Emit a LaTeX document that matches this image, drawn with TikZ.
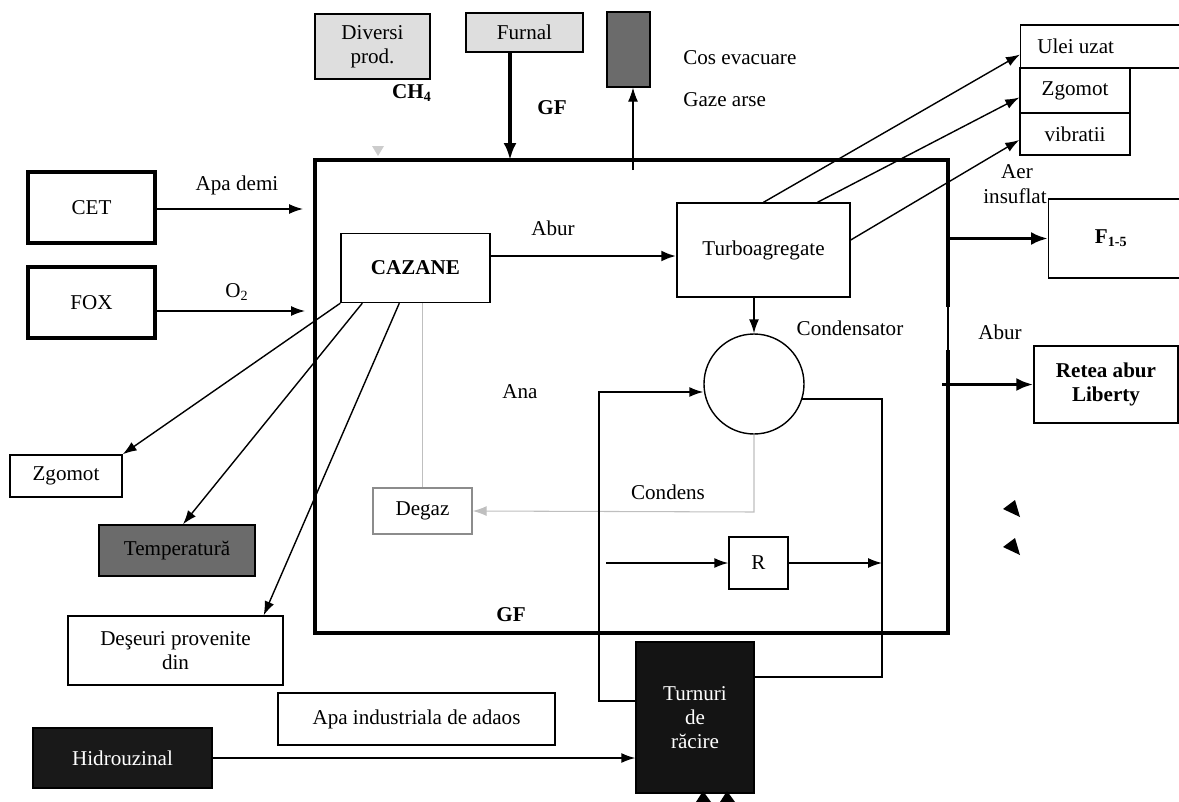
\documentclass[tikz,border=0pt]{standalone}
\usepackage{fontspec}
\setmainfont{Liberation Serif}
\usetikzlibrary{arrows.meta}

\begin{document}
\begin{tikzpicture}[x=0.2mm,y=-0.2mm,
  font=\fontsize{12}{13.5}\selectfont,
  >={Latex[length=2.8mm,width=2mm]},
  blok/.style={draw,line width=0.8pt,inner sep=1pt,align=center},
  grosbox/.style={draw,line width=2.3pt,inner sep=1pt,align=center},
  fin/.style={line width=0.8pt,->},
  gros/.style={line width=2pt,-{Latex[length=3.4mm,width=2.6mm]}},
  gri/.style={draw=black!25,line width=0.6pt},
  lbl/.style={inner sep=0pt}]

\useasboundingbox (0,0) rectangle (1179,802);

% cadrul principal
\node[draw,line width=2.8pt,minimum width=12.66cm,minimum height=9.46cm,inner sep=0pt] (main) at (631.5,396.5) {};
\fill[white] (944,307) rectangle (952,350);
\draw[line width=0.8pt] (948,305)--(948,352);

% intrari stanga
\node[grosbox,minimum width=2.54cm,minimum height=1.42cm] (cet) at (91.5,207.5) {CET};
\node[grosbox,minimum width=2.54cm,minimum height=1.42cm] (fox) at (91.5,302.5) {FOX};
\coordinate (cetin) at (303,209);
\coordinate (foxin) at (305,311);
\draw[fin] (cet.east |- cetin) -- (cetin);
\draw[fin] (fox.east |- foxin) -- (foxin);
\node[lbl] (apademi) at (237,185) {Apa demi};
\node[lbl] (o2) at (237,292) {O\textsubscript{2}};

% sus
\node[blok,fill=black!13,minimum width=2.3cm,minimum height=1.3cm,inner sep=0pt] (diversi) at (372.5,46.5) {Diversi\\prod.};
\node[lbl,font=\fontsize{12}{13.5}\selectfont\bfseries] (ch4) at (412,93) {CH\textsubscript{4}};
\node[blok,fill=black!13,minimum width=2.34cm,minimum height=0.78cm] (furnal) at (524.5,32.5) {Furnal};
\coordinate (gfin) at (510,160);
\draw[gros] (gfin |- furnal.south) -- (gfin);
\node[lbl,font=\fontsize{12}{13.5}\selectfont\bfseries] (gfsus) at (552,108) {GF};
\node[blok,fill=black!58,minimum width=0.86cm,minimum height=1.5cm] (cos) at (628.5,49.5) {};
\coordinate (cosin) at (633,170);
\draw[line width=0.6pt,->] (cosin) -- (cosin |- cos.south);
\node[lbl,anchor=west] (cosev) at (683,58) {Cos evacuare};
\node[lbl,anchor=west] (gaze) at (683,100) {Gaze arse};
\fill[black!20] (372,146) -- (384,146) -- (378,156) -- cycle;

% interior
\node[blok,minimum width=2.98cm,minimum height=1.38cm,font=\fontsize{12}{13.5}\selectfont\bfseries] (cazane) at (415.5,268) {CAZANE};
\node[blok,minimum width=3.46cm,minimum height=1.88cm] (turbo) at (763.5,250) {Turboagregate};
\draw[line width=1.6pt,-{Latex[length=3mm,width=2.2mm]}] (cazane.east |- 0,256) -- (turbo.west |- 0,256);
\node[lbl] (abur1) at (553,228) {Abur};
\node[circle,draw,line width=0.8pt,minimum size=2cm,inner sep=0pt] (cond) at (754,384) {};
\node[lbl] (condlbl) at (850,328) {Condensator};
\draw[fin] (cond.north |- turbo.south) -- (cond.north);
\node[lbl] (ana) at (520,392) {Ana};
\node[blok,draw=black!45,minimum width=1.98cm,minimum height=0.92cm] (degaz) at (422.5,511) {Degaz};
\draw[gri] (degaz.north |- cazane.south) -- (degaz.north);
\coordinate (cdn) at (754,512);
\draw[gri,->,draw=black!25] (cond.south) -- (cdn) -- (degaz.east);
\node[lbl] (condens) at (668,492) {Condens};
\node[blok,minimum width=1.18cm,minimum height=1.04cm] (R) at (758.5,563) {R};
\coordinate (rin) at (606,563);
\coordinate (lpL) at (599,392);
\coordinate (lpR) at (882,677);
\draw[fin] (rin) -- (R.west);
\draw[fin] (R.east) -- (R.east -| lpR);
\node[lbl,font=\fontsize{12}{13.5}\selectfont\bfseries] (gfjos) at (511,615) {GF};

% turnuri de racire
\node[blok,fill=black!92,text=white,minimum width=2.36cm,minimum height=3.02cm] (turnuri) at (695,717.5) {Turnuri\\de\\răcire};
\draw[line width=0.8pt,->] ([yshift=3.3mm]turnuri.west) -| (lpL) -- (cond.west |- lpL);
\draw[line width=0.8pt] (cond.-17) -| (lpR) -- (lpR -| turnuri.east);
\fill (696,802) -- (703,791) -- (711,802) -- cycle;
\fill (720,802) -- (727,791) -- (735,802) -- cycle;

% iesiri stanga
\node[blok,minimum width=2.24cm,minimum height=0.84cm] (zgomot1) at (66,476) {Zgomot};
\node[blok,fill=black!58,minimum width=3.12cm,minimum height=1.02cm] (temp) at (177,550.5) {Temperatură};
\node[blok,minimum width=4.3cm,minimum height=1.38cm] (deseuri) at (175.5,650.5) {Deşeuri provenite\\din};
\draw[fin] (cazane.south west) -- (zgomot1.north east);
\draw[fin] ([xshift=4.4mm]cazane.south west) -- ([xshift=1.2mm]temp.north);
\draw[fin] ([xshift=11.8mm]cazane.south west) -- ([xshift=-4mm]deseuri.north east);

% jos
\node[blok,minimum width=5.54cm,minimum height=1.04cm] (apaind) at (416.5,719) {Apa industriala de adaos};
\node[blok,fill=black!90,text=white,minimum width=3.58cm,minimum height=1.2cm] (hidro) at (122.5,758) {Hidrouzinal};
\draw[fin] (hidro.east) -- (turnuri.west |- hidro.east);

% iesiri dreapta
\node[blok,minimum width=3.3cm,minimum height=0.86cm,anchor=west] (ulei) at (1020,46.5) {\hspace*{-1.1cm}Ulei uzat};
\node[blok,minimum width=2.2cm,minimum height=0.9cm] (zgomot2) at (1075,90.5) {Zgomot};
\node[blok,minimum width=2.2cm,minimum height=0.84cm] (vibr) at (1075,134) {vibratii};
\draw[fin] (turbo.north) -- ([yshift=-1.6mm]ulei.west);
\draw[fin] ([xshift=10.8mm]turbo.north) -- ([yshift=-1.4mm]zgomot2.west);
\draw[fin] ([yshift=2mm]turbo.east) -- ([yshift=-1.2mm]vibr.west);
\node[lbl] (aer) at (1017,172) {Aer};
\node[lbl] (insuf) at (1015,196) {insuflat};
\node[blok,minimum width=2.7cm,minimum height=1.58cm,anchor=west,font=\fontsize{12}{13.5}\selectfont\bfseries] (f15) at (1048,238.5) {\hspace*{-0.2cm}F\textsubscript{1-5}};
\draw[gros] (main.east |- f15.west) -- (f15.west);
\node[lbl] (abur2) at (1000,332) {Abur};
\node[blok,minimum width=2.88cm,minimum height=1.54cm,font=\fontsize{12}{13.5}\selectfont\bfseries] (retea) at (1106,384.5) {Retea abur\\Liberty};
\draw[gros] ([xshift=-1.6mm]main.east |- retea.west) -- (retea.west);
\fill (1003,509) -- (1015,500) -- (1020,517) -- cycle;
\fill (1003,547) -- (1015,538) -- (1020,555) -- cycle;

\end{tikzpicture}
\end{document}
